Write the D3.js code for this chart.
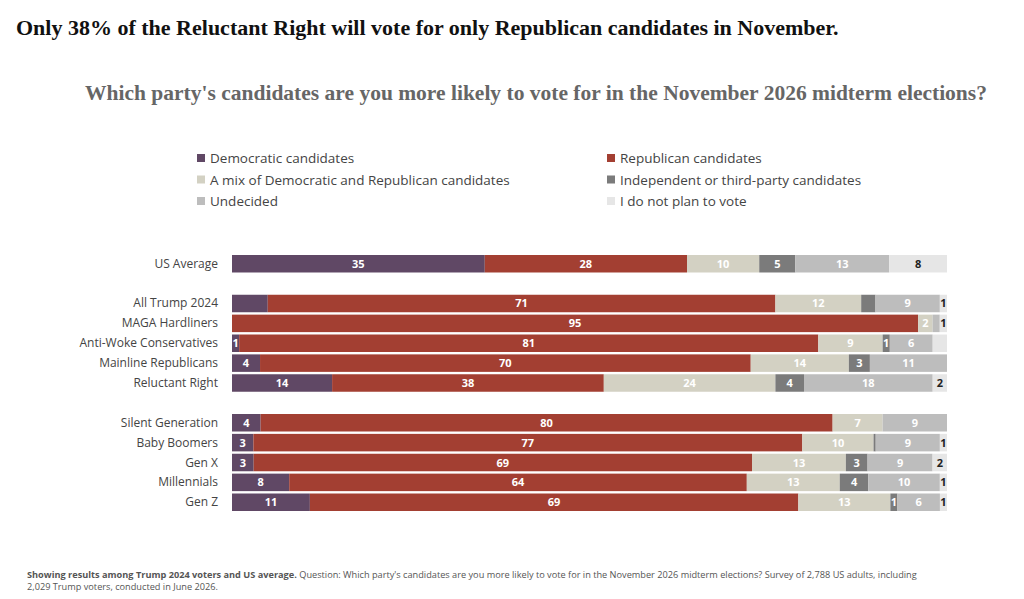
<!DOCTYPE html>
<html><head><meta charset="utf-8">
<script src="https://cdn.jsdelivr.net/npm/d3@7"></script>
<style>body{margin:0;background:#fff}</style>
</head><body><svg width="1024" height="599"></svg>
<script>
const series = ["Democratic candidates", "Republican candidates", "A mix of Democratic and Republican candidates",
  "Independent or third-party candidates", "Undecided", "I do not plan to vote"];
const colors = ["#604865", "#a33f32", "#d3d1c3", "#7b7b7b", "#bdbdbd", "#e6e6e6"];
const labelColors = ["#fff", "#fff", "#fff", "#fff", "#fff", "#222"];
const slots = ["US Average", "", "All Trump 2024", "MAGA Hardliners", "Anti-Woke Conservatives", "Mainline Republicans",
  "Reluctant Right", " ", "Silent Generation", "Baby Boomers", "Gen X", "Millennials", "Gen Z"];
const rows = [
  {name: "US Average", v: [35, 28, 10, 5, 13, 8]},
  {name: "All Trump 2024", v: [5, 71, 12, 2, 9, 1], hide: [0, 3]},
  {name: "MAGA Hardliners", v: [0, 95, 2, 0, 1, 1], hide: [0, 3, 4]},
  {name: "Anti-Woke Conservatives", v: [1, 81, 9, 1, 6, 2], hide: [5]},
  {name: "Mainline Republicans", v: [4, 70, 14, 3, 11, 0]},
  {name: "Reluctant Right", v: [14, 38, 24, 4, 18, 2]},
  {name: "Silent Generation", v: [4, 80, 7, 0, 9, 0]},
  {name: "Baby Boomers", v: [3, 77, 10, 0.3, 9, 1], hide: [3]},
  {name: "Gen X", v: [3, 69, 13, 3, 9, 2]},
  {name: "Millennials", v: [8, 64, 13, 4, 10, 1]},
  {name: "Gen Z", v: [11, 69, 13, 1, 6, 1]}
];

const svg = d3.select("svg");
svg.append("text").attr("x", 16).attr("y", 35).attr("font-family", "Liberation Serif").attr("font-weight", "bold")
  .attr("font-size", 22).attr("fill", "#111").text("Only 38% of the Reluctant Right will vote for only Republican candidates in November.");
svg.append("text").attr("x", 536).attr("y", 100).attr("text-anchor", "middle").attr("font-family", "Liberation Serif")
  .attr("font-weight", "bold").attr("font-size", 21.5).attr("fill", "#666")
  .text("Which party's candidates are you more likely to vote for in the November 2026 midterm elections?");

// legend
const leg = svg.append("g").attr("font-family", "Open Sans").attr("font-size", 13.5).attr("fill", "#444");
series.forEach((s, i) => {
  const x = i % 2 ? 611 : 201, y = 158 + Math.floor(i / 2) * 21.5;
  leg.append("rect").attr("x", x - 4).attr("y", y - 4).attr("width", 8).attr("height", 8).attr("fill", colors[i]);
  leg.append("text").attr("x", x + 9).attr("y", y + 5).attr("fill", "#444").text(s);
});

const x = d3.scaleLinear().domain([0, 1]).range([232, 947]);
const y = d3.scaleBand().domain(slots).range([255, 511]).paddingInner(0.12);

rows.forEach(r => {
  const total = d3.sum(r.v);
  let acc = 0;
  const g = svg.append("g");
  r.v.forEach((val, i) => {
    const x0 = x(acc / total), x1 = x((acc + val) / total);
    acc += val;
    g.append("rect").attr("x", x0).attr("y", y(r.name)).attr("width", Math.max(0, x1 - x0))
      .attr("height", y.bandwidth()).attr("fill", colors[i]);
    if ((val >= 1) && !(r.hide || []).includes(i)) {
      g.append("text").attr("x", (x0 + x1) / 2).attr("y", y(r.name) + y.bandwidth() / 2 + 4)
        .attr("text-anchor", "middle").attr("font-family", "Open Sans").attr("font-weight", "bold")
        .attr("font-size", 11).attr("fill", (x1 - x0) < 9 && i > 3 ? "#222" : labelColors[i]).text(val);
    }
  });
  svg.append("text").attr("x", 218).attr("y", y(r.name) + y.bandwidth() / 2 + 4).attr("text-anchor", "end")
    .attr("font-family", "Open Sans").attr("font-size", 12).attr("fill", "#444").text(r.name);
});

const foot = svg.append("text").attr("x", 27).attr("y", 578).attr("font-family", "Open Sans").attr("font-size", 9.2).attr("fill", "#555");
foot.append("tspan").attr("font-weight", "bold").text("Showing results among Trump 2024 voters and US average. ");
foot.append("tspan").text("Question: Which party's candidates are you more likely to vote for in the November 2026 midterm elections? Survey of 2,788 US adults, including");
svg.append("text").attr("x", 27).attr("y", 590).attr("font-family", "Open Sans").attr("font-size", 9.2).attr("fill", "#555")
  .text("2,029 Trump voters, conducted in June 2026.");
</script></body></html>
